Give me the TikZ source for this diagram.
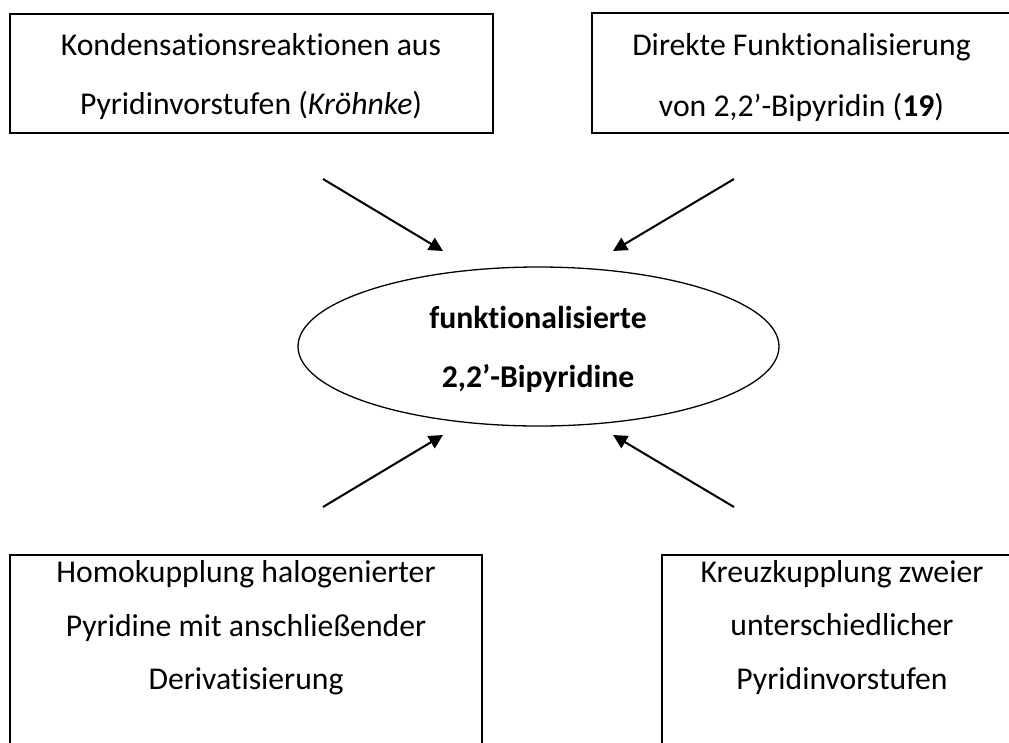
\documentclass[tikz,border=0pt]{standalone}
\usepackage{fontspec}
\setmainfont{Carlito}[Ligatures={NoCommon}]
\usetikzlibrary{shapes.geometric,arrows.meta}
\tikzset{
  boxtop/.style={draw=black, line width=2pt, minimum width=#1, inner sep=0pt, outer sep=0pt},
  boxbot/.style={draw=black, line width=1.5pt, minimum width=#1, inner sep=0pt, outer sep=0pt},
  txt/.style={anchor=base, inner sep=0pt, font=\fontsize{31.7pt}{38pt}\selectfont},
  btxt/.style={anchor=base, inner sep=0pt, font=\fontsize{31.7pt}{38pt}\selectfont\bfseries},
  arr/.style={line width=2pt, -{Triangle[length=14pt,width=14pt]}},
  oval/.style={ellipse, draw=black, line width=1.3pt, minimum width=481pt, minimum height=159pt, inner sep=0pt}
}
\begin{document}
\begin{tikzpicture}[x=1pt,y=-1pt]
\useasboundingbox[fill=white] (0,0) rectangle (1009,742);
% boxes
\node[boxtop=483pt, minimum height=119pt] (b1) at (251.5,73.5) {};
\node[boxtop=428pt, minimum height=120pt] (b2) at (806,73) {};
\node[boxbot=472pt, minimum height=245pt] (b3) at (246,677.5) {};
\node[boxbot=370pt, minimum height=245pt] (b4) at (847,677.5) {};
% box texts
\node[txt] (t1a) at (251,55) {Kondensationsreaktionen aus};
\node[txt] (t1b) at (251,114) {Pyridinvorstufen (\textit{Kröhnke})};
\node[txt] (t2a) at (801.5,55) {Direkte Funktionalisierung};
\node[txt] (t2b) at (801.5,116) {von 2,2’-Bipyridin (\textbf{19})};
\node[txt] (t3a) at (246,582) {Homokupplung halogenierter};
\node[txt] (t3b) at (246,636) {Pyridine mit anschließender};
\node[txt] (t3c) at (246,689) {Derivatisierung};
\node[txt] (t4a) at (842,582) {Kreuzkupplung zweier};
\node[txt] (t4b) at (842,635) {unterschiedlicher};
\node[txt] (t4c) at (842,689) {Pyridinvorstufen};
% centre ellipse
\node[oval] (c) at (538.5,346.5) {};
\node[btxt] (c1) at (538,328) {funktionalisierte};
\node[btxt] (c2) at (538,387) {2,2’-Bipyridine};
% arrows
\coordinate (a1s) at (323,179); \coordinate (a1e) at (443,251);
\coordinate (a2s) at (734,179); \coordinate (a2e) at (613,251);
\coordinate (a3s) at (323,507); \coordinate (a3e) at (443,435);
\coordinate (a4s) at (734,507); \coordinate (a4e) at (613,435);
\draw[arr] (a1s) -- (a1e);
\draw[arr] (a2s) -- (a2e);
\draw[arr] (a3s) -- (a3e);
\draw[arr] (a4s) -- (a4e);
\end{tikzpicture}
\end{document}
